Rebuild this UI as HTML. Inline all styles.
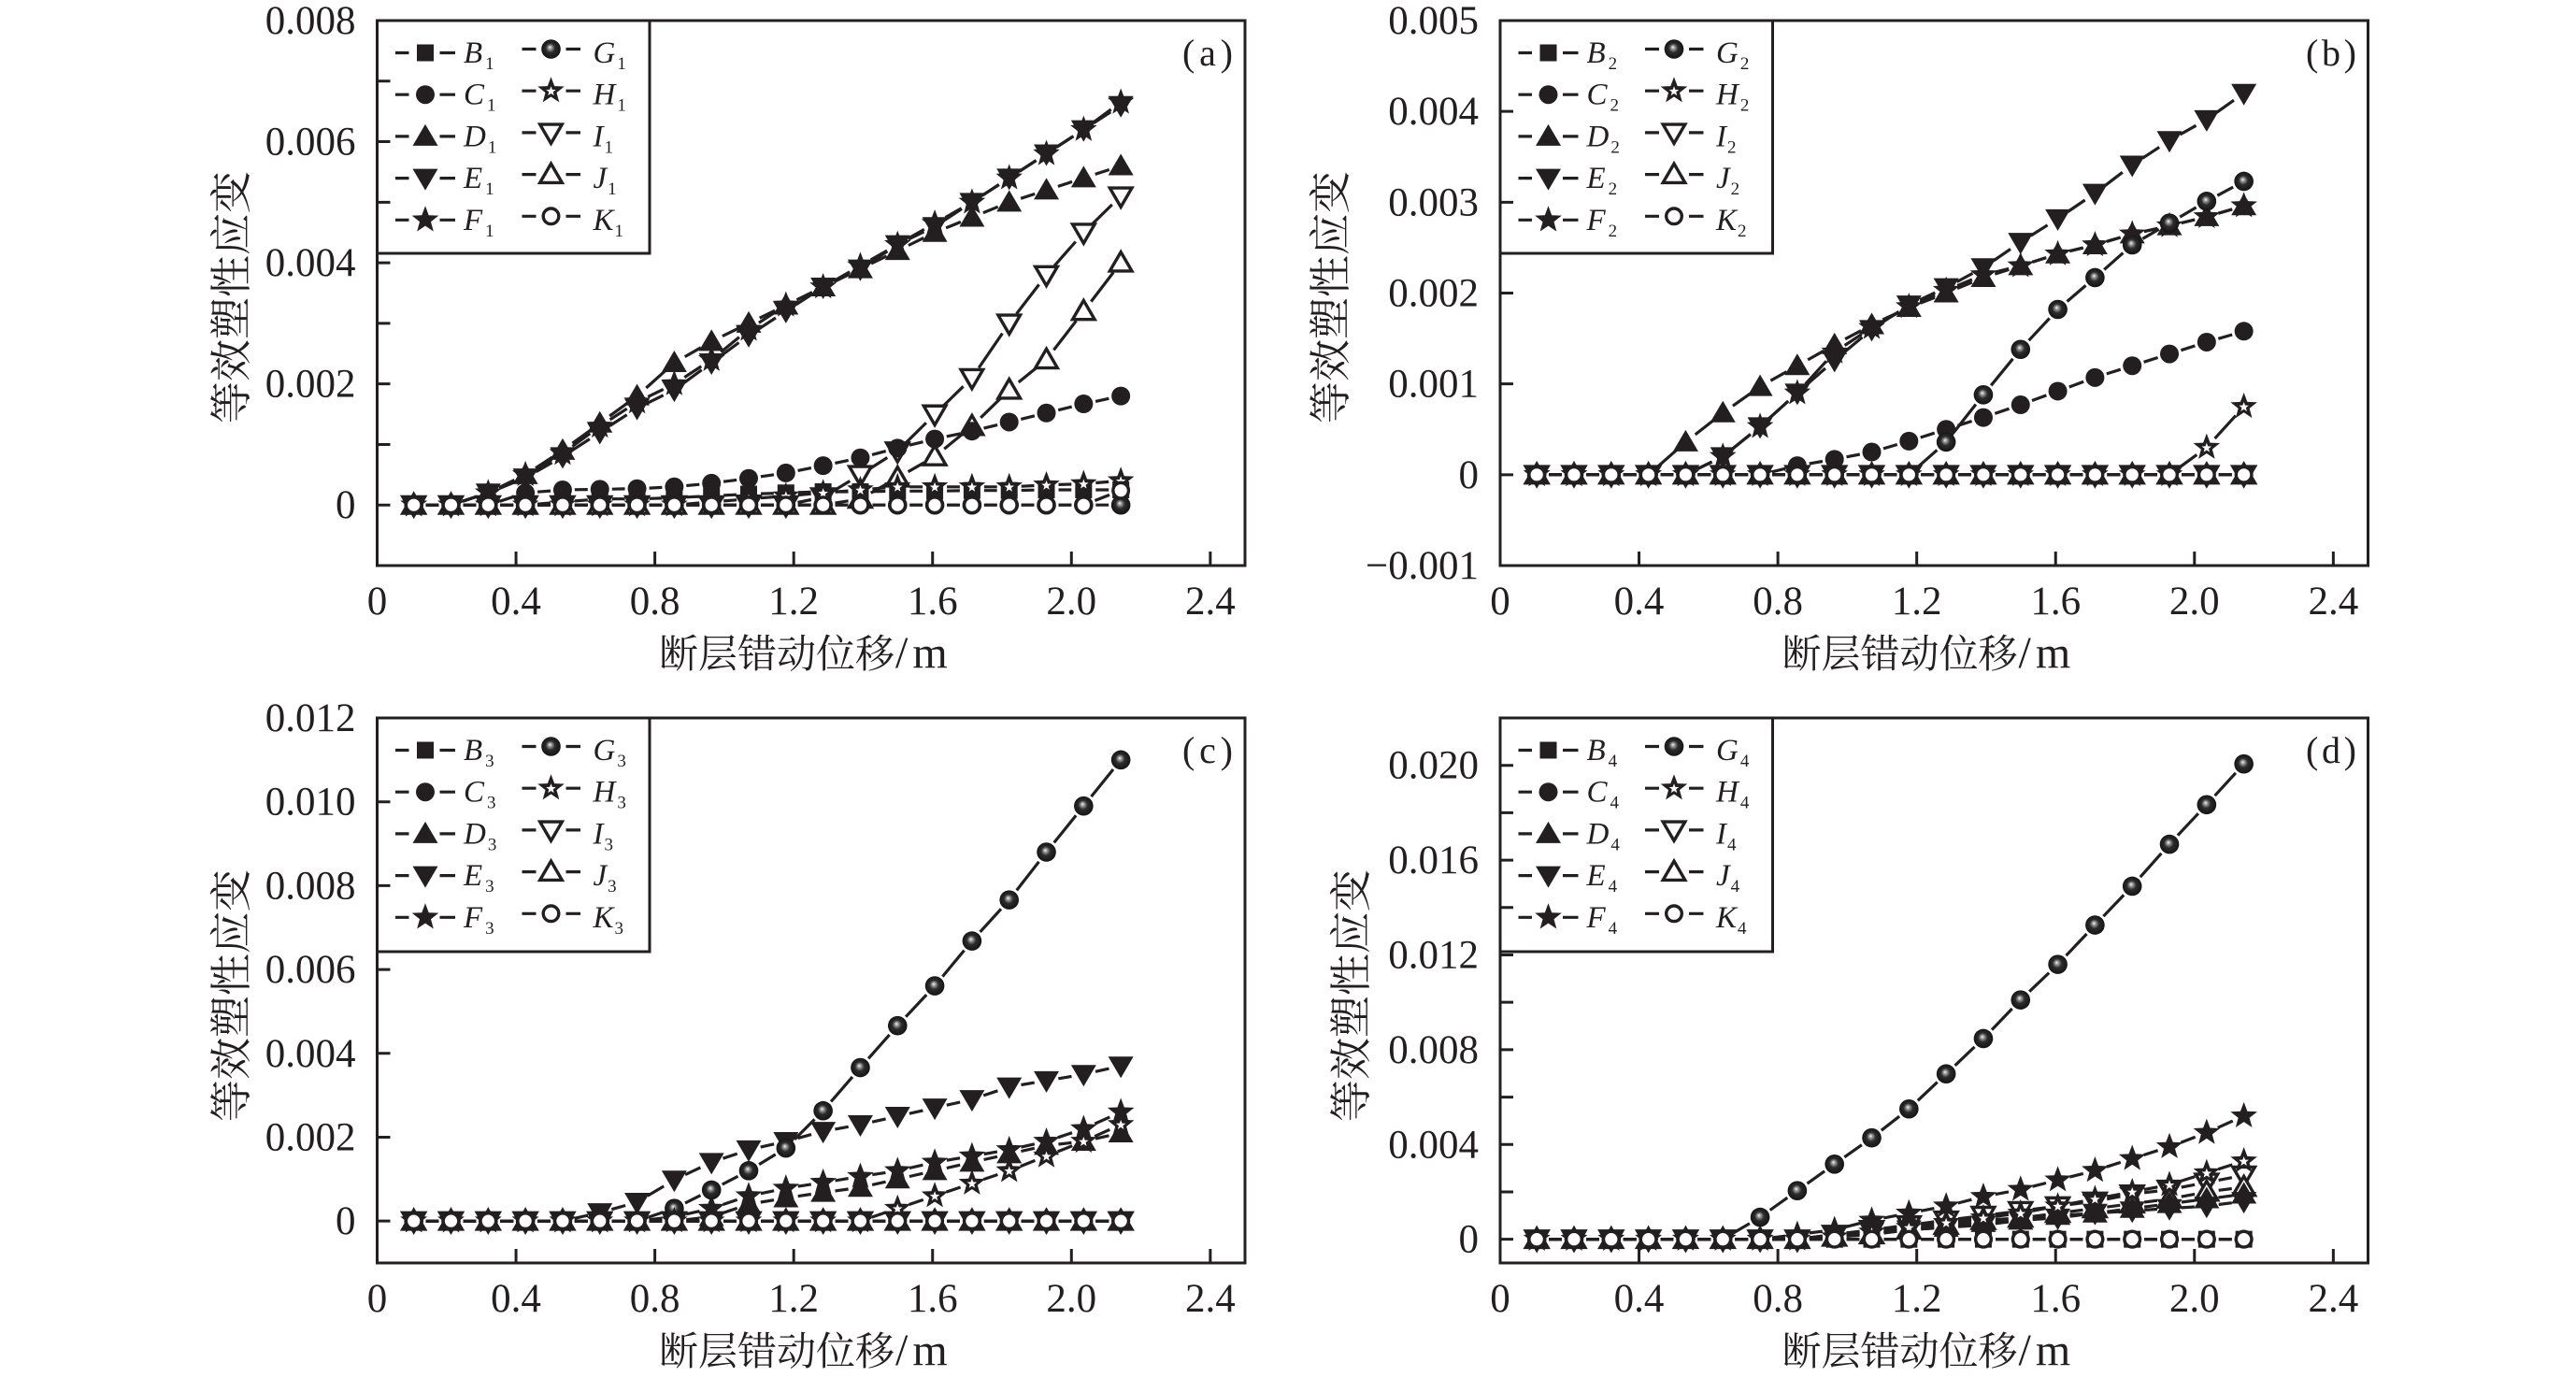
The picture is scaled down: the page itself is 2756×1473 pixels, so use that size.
<!DOCTYPE html>
<html><head><meta charset="utf-8">
<style>
html,body{margin:0;padding:0;background:#fff;}
svg{display:block;}
.tk{font-family:"Liberation Serif",serif;font-size:43px;fill:#231f20;}
.lg{font-family:"Liberation Serif",serif;font-size:33px;font-style:italic;fill:#231f20;}
.sb{font-size:19px;font-style:normal;}
.yt{font-family:"Liberation Serif","Noto Serif CJK SC",serif;font-size:45px;fill:#231f20;}
.xt{font-family:"Liberation Serif","Noto Serif CJK SC",serif;font-size:42px;fill:#231f20;}
.xm{font-family:"Liberation Serif",serif;font-size:48px;letter-spacing:5px;fill:#231f20;}
.pl{font-family:"Liberation Serif",serif;font-size:40px;fill:#231f20;}
</style></head><body>
<svg id="s" width="2756" height="1473" viewBox="0 0 2756 1473" xmlns="http://www.w3.org/2000/svg">
<defs>
<radialGradient id="sph" cx="0.5" cy="0.5" r="0.5" fx="0.44" fy="0.4">
<stop offset="0" stop-color="#fafafa"/><stop offset="0.16" stop-color="#a5a5a5"/><stop offset="0.48" stop-color="#2c2c2c"/><stop offset="1" stop-color="#141414"/>
</radialGradient>
</defs>
<rect width="2756" height="1473" fill="#fff"/>
<g id="data"></g>
<!-- legend boxes -->
<g fill="#fff" stroke="#231f20" stroke-width="3">
<rect x="403.5" y="22" width="291.5" height="249"/>
<rect x="1605" y="22" width="291.5" height="249"/>
<rect x="403.5" y="768" width="291.5" height="250"/>
<rect x="1605" y="768" width="291.5" height="250"/>
</g>
<g id="leg"></g>
<!-- frames -->
<g fill="none" stroke="#231f20" stroke-width="3">
<rect x="403.5" y="22" width="928.5" height="583"/>
<rect x="1605" y="22" width="928.5" height="583"/>
<rect x="403.5" y="768" width="928.5" height="583"/>
<rect x="1605" y="768" width="928.5" height="583"/>
</g>
<!-- ticks -->
<g fill="none" stroke="#231f20" stroke-width="3">
<path d="M403.5 86.78h14M403.5 151.56h14M403.5 216.33h14M403.5 281.11h14M403.5 345.89h14M403.5 410.67h14M403.5 475.44h14M403.5 540.22h14
M552.06 605v-15M700.62 605v-15M849.18 605v-15M997.74 605v-15M1146.3 605v-15M1294.86 605v-15"/>
<path d="M1605 119.17h14M1605 216.33h14M1605 313.5h14M1605 410.67h14M1605 507.83h14
M1753.56 605v-15M1902.12 605v-15M2050.68 605v-15M2199.24 605v-15M2347.8 605v-15M2496.36 605v-15"/>
<path d="M403.5 857.69h14M403.5 947.38h14M403.5 1037.08h14M403.5 1126.77h14M403.5 1216.46h14M403.5 1306.15h14
M552.06 1351v-15M700.62 1351v-15M849.18 1351v-15M997.74 1351v-15M1146.3 1351v-15M1294.86 1351v-15"/>
<path d="M1605 818.7h14M1605 869.4h14M1605 920.09h14M1605 970.78h14M1605 1021.48h14M1605 1072.17h14M1605 1122.87h14M1605 1173.57h14M1605 1224.26h14M1605 1274.96h14M1605 1325.65h14
M1753.56 1351v-15M1902.12 1351v-15M2050.68 1351v-15M2199.24 1351v-15M2347.8 1351v-15M2496.36 1351v-15"/>
</g>

<!-- y tick labels -->
<g class="tk" text-anchor="end">
<text x="380.5" y="36">0.008</text><text x="380.5" y="165.6">0.006</text><text x="380.5" y="295.1">0.004</text><text x="380.5" y="424.7">0.002</text><text x="380.5" y="554.2">0</text>
<text x="1582" y="36">0.005</text><text x="1582" y="133.2">0.004</text><text x="1582" y="230.3">0.003</text><text x="1582" y="327.5">0.002</text><text x="1582" y="424.7">0.001</text><text x="1582" y="521.8">0</text><text x="1582" y="619">−0.001</text>
<text x="380.5" y="782">0.012</text><text x="380.5" y="871.7">0.010</text><text x="380.5" y="961.4">0.008</text><text x="380.5" y="1051.1">0.006</text><text x="380.5" y="1140.8">0.004</text><text x="380.5" y="1230.5">0.002</text><text x="380.5" y="1320.2">0</text>
<text x="1582" y="832.7">0.020</text><text x="1582" y="934.1">0.016</text><text x="1582" y="1035.5">0.012</text><text x="1582" y="1136.9">0.008</text><text x="1582" y="1238.3">0.004</text><text x="1582" y="1339.7">0</text>
</g>
<!-- x tick labels -->
<g class="tk" text-anchor="middle">
<text x="403.5" y="657">0</text><text x="552.06" y="657">0.4</text><text x="700.62" y="657">0.8</text><text x="849.18" y="657">1.2</text><text x="997.74" y="657">1.6</text><text x="1146.3" y="657">2.0</text><text x="1294.86" y="657">2.4</text>
<text x="1605" y="657">0</text><text x="1753.56" y="657">0.4</text><text x="1902.12" y="657">0.8</text><text x="2050.68" y="657">1.2</text><text x="2199.24" y="657">1.6</text><text x="2347.8" y="657">2.0</text><text x="2496.36" y="657">2.4</text>
<text x="403.5" y="1403">0</text><text x="552.06" y="1403">0.4</text><text x="700.62" y="1403">0.8</text><text x="849.18" y="1403">1.2</text><text x="997.74" y="1403">1.6</text><text x="1146.3" y="1403">2.0</text><text x="1294.86" y="1403">2.4</text>
<text x="1605" y="1403">0</text><text x="1753.56" y="1403">0.4</text><text x="1902.12" y="1403">0.8</text><text x="2050.68" y="1403">1.2</text><text x="2199.24" y="1403">1.6</text><text x="2347.8" y="1403">2.0</text><text x="2496.36" y="1403">2.4</text>
</g>
<!-- axis titles -->
<text class="yt" transform="translate(247,318) rotate(-90)" x="0" y="16" text-anchor="middle">等效塑性应变</text>
<text class="yt" transform="translate(1423,318) rotate(-90)" x="0" y="16" text-anchor="middle">等效塑性应变</text>
<text class="yt" transform="translate(247,1065) rotate(-90)" x="0" y="16" text-anchor="middle">等效塑性应变</text>
<text class="yt" transform="translate(1445,1065) rotate(-90)" x="0" y="16" text-anchor="middle">等效塑性应变</text>

<text class="xt" x="705" y="714">断层错动位移</text><text class="xm" x="958" y="714">/m</text>
<text class="xt" x="1906.5" y="714">断层错动位移</text><text class="xm" x="2159.5" y="714">/m</text>
<text class="xt" x="705" y="1460">断层错动位移</text><text class="xm" x="958" y="1460">/m</text>
<text class="xt" x="1906.5" y="1460">断层错动位移</text><text class="xm" x="2159.5" y="1460">/m</text>

<!-- panel labels -->
<text class="pl" x="1265" y="70" textLength="54" lengthAdjust="spacing">(a)</text>
<text class="pl" x="2467" y="70" textLength="54" lengthAdjust="spacing">(b)</text>
<text class="pl" x="1265" y="816" textLength="54" lengthAdjust="spacing">(c)</text>
<text class="pl" x="2467" y="816" textLength="54" lengthAdjust="spacing">(d)</text>

<!-- legend labels -->
<g class="lg">
<text x="496" y="67">B<tspan class="sb" dx="3" dy="7">1</tspan></text>
<text x="496" y="111.7">C<tspan class="sb" dx="3" dy="7">1</tspan></text>
<text x="496" y="156.4">D<tspan class="sb" dx="2" dy="7">1</tspan></text>
<text x="496" y="201.1">E<tspan class="sb" dx="3" dy="7">1</tspan></text>
<text x="496" y="245.8">F<tspan class="sb" dx="3" dy="7">1</tspan></text>
<text x="634.5" y="67">G<tspan class="sb" dx="2" dy="7">1</tspan></text>
<text x="634.5" y="111.7">H<tspan class="sb" dx="2" dy="7">1</tspan></text>
<text x="634.5" y="156.4">I<tspan class="sb" dx="1" dy="7">1</tspan></text>
<text x="634.5" y="201.1">J<tspan class="sb" dx="1" dy="7">1</tspan></text>
<text x="634.5" y="245.8">K<tspan class="sb" dx="1" dy="7">1</tspan></text>

<text x="1697.5" y="67">B<tspan class="sb" dx="3" dy="7">2</tspan></text>
<text x="1697.5" y="111.7">C<tspan class="sb" dx="3" dy="7">2</tspan></text>
<text x="1697.5" y="156.4">D<tspan class="sb" dx="2" dy="7">2</tspan></text>
<text x="1697.5" y="201.1">E<tspan class="sb" dx="3" dy="7">2</tspan></text>
<text x="1697.5" y="245.8">F<tspan class="sb" dx="3" dy="7">2</tspan></text>
<text x="1836" y="67">G<tspan class="sb" dx="2" dy="7">2</tspan></text>
<text x="1836" y="111.7">H<tspan class="sb" dx="2" dy="7">2</tspan></text>
<text x="1836" y="156.4">I<tspan class="sb" dx="1" dy="7">2</tspan></text>
<text x="1836" y="201.1">J<tspan class="sb" dx="1" dy="7">2</tspan></text>
<text x="1836" y="245.8">K<tspan class="sb" dx="1" dy="7">2</tspan></text>

<text x="496" y="813">B<tspan class="sb" dx="3" dy="7">3</tspan></text>
<text x="496" y="857.7">C<tspan class="sb" dx="3" dy="7">3</tspan></text>
<text x="496" y="902.4">D<tspan class="sb" dx="2" dy="7">3</tspan></text>
<text x="496" y="947.1">E<tspan class="sb" dx="3" dy="7">3</tspan></text>
<text x="496" y="991.8">F<tspan class="sb" dx="3" dy="7">3</tspan></text>
<text x="634.5" y="813">G<tspan class="sb" dx="2" dy="7">3</tspan></text>
<text x="634.5" y="857.7">H<tspan class="sb" dx="2" dy="7">3</tspan></text>
<text x="634.5" y="902.4">I<tspan class="sb" dx="1" dy="7">3</tspan></text>
<text x="634.5" y="947.1">J<tspan class="sb" dx="1" dy="7">3</tspan></text>
<text x="634.5" y="991.8">K<tspan class="sb" dx="1" dy="7">3</tspan></text>

<text x="1697.5" y="813">B<tspan class="sb" dx="3" dy="7">4</tspan></text>
<text x="1697.5" y="857.7">C<tspan class="sb" dx="3" dy="7">4</tspan></text>
<text x="1697.5" y="902.4">D<tspan class="sb" dx="2" dy="7">4</tspan></text>
<text x="1697.5" y="947.1">E<tspan class="sb" dx="3" dy="7">4</tspan></text>
<text x="1697.5" y="991.8">F<tspan class="sb" dx="3" dy="7">4</tspan></text>
<text x="1836" y="813">G<tspan class="sb" dx="2" dy="7">4</tspan></text>
<text x="1836" y="857.7">H<tspan class="sb" dx="2" dy="7">4</tspan></text>
<text x="1836" y="902.4">I<tspan class="sb" dx="1" dy="7">4</tspan></text>
<text x="1836" y="947.1">J<tspan class="sb" dx="1" dy="7">4</tspan></text>
<text x="1836" y="991.8">K<tspan class="sb" dx="1" dy="7">4</tspan></text>
</g>
</svg>
<script>
(function(){
var K='#231f20';
var xs=[];for(var k=0;k<20;k++)xs.push(0.1055+k*0.1072);
function f(a){var z=[];for(var i=0;i<20-a.length;i++)z.push(0);return z.concat(a);}
function star(cx,cy,R,r){var p=[];for(var i=0;i<10;i++){var a=-Math.PI/2+i*Math.PI/5,q=i%2?r:R;p.push((cx+q*Math.cos(a)).toFixed(2)+','+(cy+q*Math.sin(a)).toFixed(2));}return p.join(' ');}
function P2(a){return a.map(function(p){return p[0].toFixed(2)+','+p[1].toFixed(2);}).join(' ');}
function mk(t,x,y){
 switch(t){
 case 'B':return '<rect x="'+(x-9)+'" y="'+(y-9)+'" width="18" height="18" fill="'+K+'"/>';
 case 'C':return '<circle cx="'+x+'" cy="'+y+'" r="10" fill="'+K+'"/>';
 case 'D':return '<polygon points="'+P2([[x,y-13],[x+13.5,y+10],[x-13.5,y+10]])+'" fill="'+K+'"/>';
 case 'E':return '<polygon points="'+P2([[x,y+13],[x+13.5,y-10],[x-13.5,y-10]])+'" fill="'+K+'"/>';
 case 'F':return '<polygon points="'+star(x,y,15,6.3)+'" fill="'+K+'"/>';
 case 'G':return '<circle cx="'+x+'" cy="'+y+'" r="10.3" fill="url(#sph)"/>';
 case 'H':return '<polygon points="'+star(x,y,15,6.3)+'" fill="'+K+'"/><polygon points="'+star(x,y+0.5,5.5,2.3)+'" fill="#fff"/>';
 case 'I':return '<polygon points="'+P2([[x,y+11.5],[x+11.8,y-8.8],[x-11.8,y-8.8]])+'" fill="#fff" stroke="'+K+'" stroke-width="3.4"/>';
 case 'J':return '<polygon points="'+P2([[x,y-11.5],[x+11.8,y+8.8],[x-11.8,y+8.8]])+'" fill="#fff" stroke="'+K+'" stroke-width="3.4"/>';
 case 'K':return '<circle cx="'+x+'" cy="'+y+'" r="8.3" fill="#fff" stroke="'+K+'" stroke-width="3.4"/>';
 }
 return '';
}
var PN=[
{L:403.5,T:22,lo:-0.001,hi:0.008,order:['I','J','B','C','D','E','F','G','H','K'],d:{
 B:f([.00005,.0001,.0001,.00012,.00015,.00018,.0002,.00022,.00022,.00023,.00023,.00024,.00024,.00025,.00025,.00025]),
 C:f([.0002,.00025,.00026,.00027,.0003,.00036,.00044,.00053,.00065,.00078,.00094,.00109,.00122,.00137,.00152,.00167,.0018]),
 D:f([.0002,.0005,.0009,.00135,.0018,.00235,.0027,.003,.0033,.0036,.0039,.0042,.0045,.00475,.005,.0052,.0054,.0056]),
 E:f([.0002,.00045,.0008,.0012,.0016,.0019,.00235,.0028,.0032,.0036,.0039,.0043,.0046,.005,.0054,.0058,.0062,.0066]),
 F:f([.0002,.0005,.00085,.0013,.0017,.002,.0024,.0029,.0033,.0036,.00395,.0043,.00465,.005,.0054,.0058,.0062,.00665]),
 G:f([]),
 H:f([.00005,.0001,.00015,.0002,.00025,.0003,.0003,.0003,.0003,.00033,.00035,.0004]),
 I:f([.00013,.0005,.00089,.0015,.0021,.003,.0038,.0045,.0051]),
 J:f([.0001,.00045,.0008,.0013,.0019,.0024,.0032,.004]),
 K:f([.00024])}},
{L:1605,T:22,lo:-0.001,hi:0.005,order:['I','J','B','C','F','D','E','G','H','K'],d:{
 B:f([]),
 C:f([.0001,.00017,.00025,.00037,.0005,.00063,.00077,.00092,.00107,.0012,.00133,.00146,.00158]),
 D:f([.00036,.00068,.00097,.0012,.00143,.00165,.00184,.002,.00217,.0023,.00243,.00253,.00265,.00274,.00284,.00296]),
 E:f([.0002,.00053,.0009,.00126,.0016,.00187,.00206,.00228,.00256,.00282,.0031,.00341,.00368,.00391,.0042]),
 F:f([.0002,.00053,.0009,.00135,.00162,.00185,.00203,.0022,.0023,.00243,.00253,.00265,.00274,.00284,.00296]),
 G:f([.00036,.00088,.00138,.00182,.00217,.00253,.00277,.00301,.00323]),
 H:f([.0003,.00075]),
 I:f([]),J:f([]),K:f([])}},
{L:403.5,T:768,lo:-0.001,hi:0.012,order:['I','J','B','C','D','E','F','G','H','K'],d:{
 B:f([]),C:f([]),
 D:f([.0001,.0004,.00055,.00068,.0008,.001,.0012,.0014,.0016,.0018,.0019,.0021]),
 E:f([.0002,.00045,.00098,.0014,.0017,.0019,.00214,.0023,.0025,.0027,.0029,.0032,.00335,.0035,.0037]),
 F:f([.0001,.0003,.0006,.00078,.00092,.00106,.0012,.0014,.00155,.0017,.0019,.0022,.0026]),
 G:f([.0003,.00074,.0012,.00174,.00263,.00366,.00466,.00561,.00668,.00766,.0088,.0099,.011]),
 H:f([.0003,.0006,.0009,.0012,.00155,.0019,.0023]),
 I:f([]),J:f([]),K:f([])}},
{L:1605,T:768,lo:-0.001,hi:0.022,order:['I','J','B','C','D','E','F','G','H','K'],d:{
 B:f([]),
 C:f([]),
 D:f([.0001,.0002,.0004,.0005,.0007,.0008,.001,.0011,.0013,.0015,.0017,.0019]),
 E:f([.0002,.0003,.0004,.0005,.0006,.0008,.0009,.0011,.0012,.0013,.0014,.0016]),
 F:f([.0002,.0004,.0008,.0011,.0014,.0018,.0021,.0025,.0029,.0034,.0039,.0045,.0052]),
 G:f([.00093,.00205,.00317,.00428,.0055,.00698,.00847,.0101,.0116,.01326,.0149,.01667,.01834,.02006]),
 H:f([.0001,.0003,.0005,.0007,.0009,.0011,.0014,.0017,.002,.0023,.0028,.0033]),
 I:f([.0002,.0004,.0006,.0008,.001,.0012,.0014,.0016,.0019,.0021,.0024,.0027]),
 J:f([.0001,.0002,.0004,.0006,.0008,.0009,.0011,.0013,.0015,.0017,.002,.0022]),
 K:f([])}}
];
var out='',leg='';
var W=928.5,H=583,g=13;
PN.forEach(function(p){
 function X(v){return p.L+v/2.5*W;}
 function Y(v){return p.T+(p.hi-v)/(p.hi-p.lo)*H;}
 p.order.forEach(function(s){
  var a=p.d[s];
  var pts=a.map(function(v,i){return [X(xs[i]),Y(v)];});
  var path='';
  for(var i=0;i<19;i++){
   var x1=pts[i][0],y1=pts[i][1],x2=pts[i+1][0],y2=pts[i+1][1];
   var dx=x2-x1,dy=y2-y1,l=Math.sqrt(dx*dx+dy*dy);
   if(l>2*g+1){var ux=dx/l,uy=dy/l;
    path+='M'+(x1+ux*g).toFixed(1)+' '+(y1+uy*g).toFixed(1)+'L'+(x2-ux*g).toFixed(1)+' '+(y2-uy*g).toFixed(1);}
  }
  if(path)out+='<path d="'+path+'" stroke="'+K+'" stroke-width="3.2" fill="none"/>';
  pts.forEach(function(q){out+=mk(s,q[0],q[1]);});
 });
 var L=p.L,T=p.T;
 for(var i=0;i<5;i++){
  var c1='BCDEF'[i],c2='GHIJK'[i];
  var y1=T+34.5+i*44.7,y2=T+30.5+i*44.7;
  leg+='<path d="M'+(L+19.5)+' '+y1+'H'+(L+34)+'M'+(L+67)+' '+y1+'H'+(L+83.5)+'M'+(L+155)+' '+y2+'H'+(L+170)+'M'+(L+202)+' '+y2+'H'+(L+217.5)+'" stroke="'+K+'" stroke-width="3.2" fill="none"/>';
  leg+=mk(c1,L+51.5,y1)+mk(c2,L+186,y2);
 }
});
document.getElementById('data').innerHTML=out;
document.getElementById('leg').innerHTML=leg;
})();
</script>
</body></html>
